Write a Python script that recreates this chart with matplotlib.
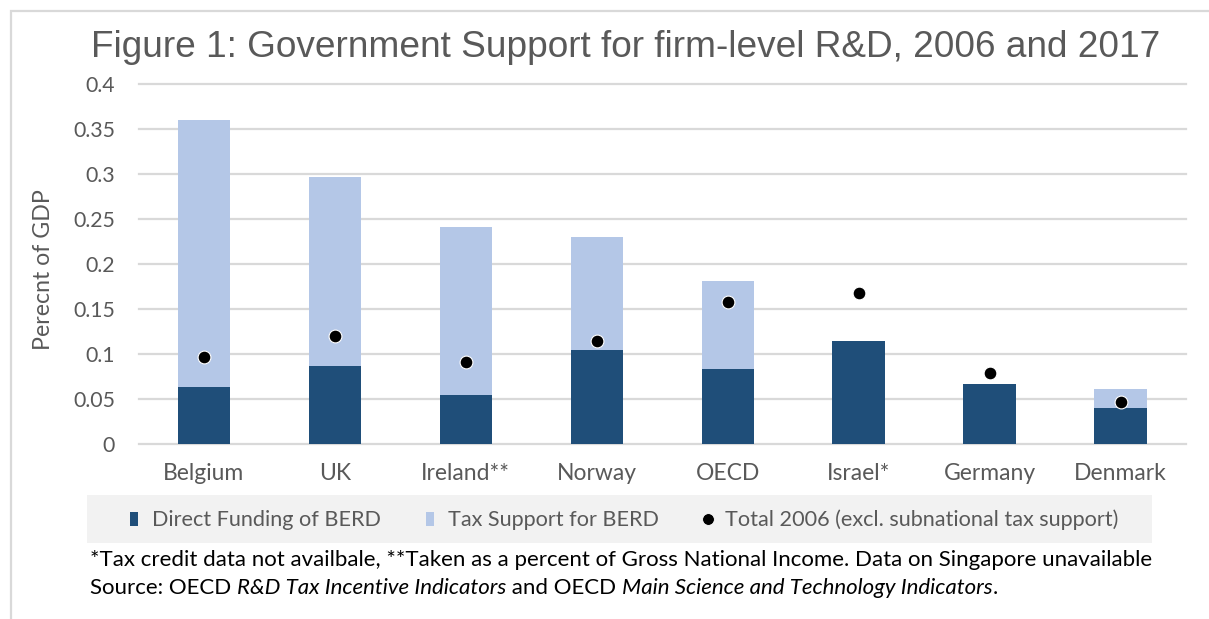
import matplotlib
matplotlib.use("Agg")
import matplotlib.pyplot as plt
from matplotlib.patches import Patch, Rectangle
from matplotlib.lines import Line2D
import numpy as np

# ---------------- data ----------------
countries = ["Belgium", "UK", "Ireland**", "Norway", "OECD", "Israel*", "Germany", "Denmark"]
direct_funding = [0.063, 0.086, 0.054, 0.104, 0.083, 0.114, 0.066, 0.039]
tax_support = [0.297, 0.210, 0.187, 0.126, 0.098, 0.0, 0.0, 0.022]
total_2006 = [0.096, 0.120, 0.091, 0.114, 0.157, 0.168, 0.078, 0.046]
yticks = [0, 0.05, 0.1, 0.15, 0.2, 0.25, 0.3, 0.35, 0.4]
ytick_labels = ["0", "0.05", "0.1", "0.15", "0.2", "0.25", "0.3", "0.35", "0.4"]
legend_labels = ["Direct Funding of BERD", "Tax Support for BERD",
                 "Total 2006 (excl. subnational tax support)"]
title = "Figure 1: Government Support for firm-level R&D, 2006 and 2017"
ylabel = "Perecnt of GDP"
note1 = ("*Tax credit data not availbale, **Taken as a percent of Gross National Income. "
         "Data on Singapore unavailable")
note2 = [("Source: OECD ", "normal"), ("R&D Tax Incentive Indicators", "italic"),
         (" and OECD ", "normal"), ("Main Science and Technology Indicators", "italic"),
         (".", "normal")]

DARK = "#1F4E79"
LIGHT = "#B4C7E7"
GRID = "#D9D9D9"
GRAYTXT = "#595959"
BODY = ["Lato", "DejaVu Sans"]
TITLEF = ["Liberation Sans", "DejaVu Sans"]

W, H = 1209, 619
fig = plt.figure(figsize=(W / 100, H / 100), dpi=100)
fig.patch.set_facecolor("white")
renderer = fig.canvas.get_renderer()


def fx(px):
    return px / W


def fy(py):
    return 1 - py / H


def text_width(s, size, family, style="normal"):
    t = fig.text(0, 0, s + "|", fontsize=size, family=family, style=style)
    t2 = fig.text(0, 0, "|", fontsize=size, family=family, style=style)
    w = t.get_window_extent(renderer).width - t2.get_window_extent(renderer).width
    t.remove()
    t2.remove()
    return w


def fit_size(s, target, family, style="normal"):
    return 10 * target / text_width(s, 10, family, style)


# ---------------- axes ----------------
ax = fig.add_axes([fx(138.5), fy(443.5), fx(1186) - fx(138.5), fy(84) - fy(443.5)])
x = np.arange(len(countries))
ax.bar(x, direct_funding, 0.4, color=DARK, zorder=2, label=legend_labels[0])
ax.bar(x, tax_support, 0.4, bottom=direct_funding, color=LIGHT, zorder=2, label=legend_labels[1])
ax.scatter(x, total_2006, s=85, color="black", edgecolors="white", linewidths=0.8,
           zorder=3, label=legend_labels[2])
ax.set_xlim(-0.5, len(countries) - 0.5)
ax.set_ylim(0, 0.4)
for sp in ax.spines.values():
    sp.set_visible(False)
ax.set_yticks(yticks)
ax.set_yticklabels(ytick_labels)
ax.set_xticks(x)
ax.set_xticklabels(countries)
ax.yaxis.grid(True, color=GRID, lw=1.6)
ax.set_axisbelow(True)
for gl in ax.get_ygridlines():
    gl.set_clip_on(False)

ytick_size = fit_size("0.35", 42, BODY)
xtick_size = fit_size("Belgium", 81, BODY)
ax.tick_params(axis="y", length=0, labelcolor=GRAYTXT, labelsize=ytick_size, pad=17)
ax.tick_params(axis="x", length=0, labelcolor=GRAYTXT, labelsize=xtick_size, pad=14)
for lab in ax.get_xticklabels() + ax.get_yticklabels():
    lab.set_family(BODY)

# y label
ys = fit_size(ylabel, 160, BODY)
fig.text(fx(44), fy(270), ylabel, rotation=90, ha="center", va="center",
         fontsize=ys, color=GRAYTXT, family=BODY)

# title
ts = fit_size(title, 1075, TITLEF)
fig.text(fx(625.5), fy(57), title, ha="center", va="baseline", fontsize=ts,
         color=GRAYTXT, family=TITLEF)

# legend background
fig.patches.append(Rectangle((fx(87), fy(543)), fx(1152) - fx(87), fy(495) - fy(543),
                             transform=fig.transFigure, facecolor="#F2F2F2",
                             edgecolor="none", zorder=0))
ls = fit_size(legend_labels[0], 228, BODY)
handles = [Patch(facecolor=DARK, edgecolor="none"),
           Patch(facecolor=LIGHT, edgecolor="none"),
           Line2D([], [], marker="o", ls="none", color="black", markersize=8.5,
                  markeredgecolor="white", markeredgewidth=0.6)]
fig.legend(handles, legend_labels, loc="center", bbox_to_anchor=(fx(624.5), fy(520)),
           ncol=3, frameon=False, prop={"family": BODY, "size": ls},
           labelcolor=GRAYTXT, handlelength=0.35, handleheight=0.65,
           handletextpad=0.65, columnspacing=2.1)

# footnotes
ns = fit_size(note1, 1062, BODY)
fig.text(fx(90), fy(566.5), note1, ha="left", va="baseline", fontsize=ns,
         color="black", family=BODY)
xpos = 90
for s, st in note2:
    fig.text(fx(xpos), fy(594.5), s, ha="left", va="baseline", fontsize=ns,
             color="black", family=BODY, style=st)
    xpos += text_width(s, ns, BODY, st)

# outer frame
fig.patches.append(Rectangle((fx(10.5), fy(640)), fx(1240) - fx(10.5), fy(10.5) - fy(640),
                             transform=fig.transFigure, facecolor="none",
                             edgecolor="#D9D9D9", lw=1.6, zorder=0))

fig.savefig("out.png", dpi=100)
